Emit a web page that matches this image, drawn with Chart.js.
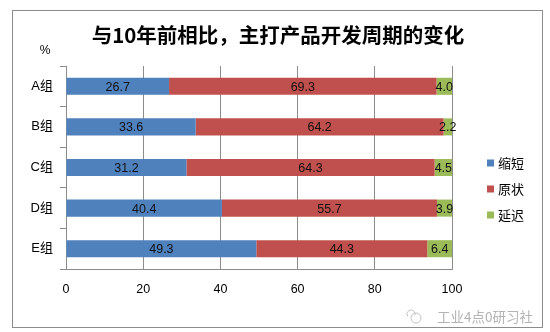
<!DOCTYPE html>
<html>
<head>
<meta charset="utf-8">
<script src="https://cdn.jsdelivr.net/npm/chart.js@4"></script>
<style>
html,body{margin:0;padding:0;background:#fff;}
#wrap{width:550px;height:332px;position:relative;}
</style>
</head>
<body>
<div id="wrap"><canvas id="c" width="550" height="332"></canvas></div>
<script>
const titleText = '与10年前相比，主打产品开发周期的变化';
const unitLabel = '%';
const watermark = '工业4点0研习社';
const categories = ['A组', 'B组', 'C组', 'D组', 'E组'];
const seriesNames = ['缩短', '原状', '延迟'];
const shortened = [26.7, 33.6, 31.2, 40.4, 49.3];
const unchanged = [69.3, 64.2, 64.3, 55.7, 44.3];
const delayed = [4.0, 2.2, 4.5, 3.9, 6.4];
const colors = ['#4F81BD', '#C0504D', '#9BBB59'];
const xTicks = [0, 20, 40, 60, 80, 100];

const FONT = '"Liberation Sans", "Noto Sans CJK SC", sans-serif';
const CJK = '"Noto Sans CJK SC", sans-serif';

const decorPlugin = {
  id: 'decor',
  beforeDraw(chart) {
    const ctx = chart.ctx;
    ctx.save();
    ctx.fillStyle = '#fff';
    ctx.fillRect(0, 0, chart.width, chart.height);
    ctx.strokeStyle = '#8c8c8c';
    ctx.lineWidth = 1;
    ctx.strokeRect(12.5, 10.5, 530, 317);
    ctx.restore();
  },
  afterDraw(chart) {
    const ctx = chart.ctx;
    ctx.save();
    // title
    ctx.fillStyle = '#000';
    ctx.font = 'bold 20.5px ' + CJK;
    ctx.textAlign = 'center';
    ctx.textBaseline = 'middle';
    ctx.fillText(titleText, 278, 35);
    // unit
    ctx.font = '12px ' + FONT;
    ctx.fillText(unitLabel, 45, 51);
    // data labels
    ctx.font = '12.5px ' + FONT;
    ctx.fillStyle = '#111';
    chart.data.datasets.forEach((ds, di) => {
      const meta = chart.getDatasetMeta(di);
      meta.data.forEach((bar, i) => {
        const p = bar.getProps(['x', 'y', 'base'], true);
        const cx = (p.x + p.base) / 2;
        ctx.fillText(ds.data[i].toFixed(1), cx, p.y + 1);
      });
    });
    // legend
    ctx.font = '13px ' + CJK;
    ctx.textAlign = 'left';
    const ly = [163, 189, 215];
    seriesNames.forEach((n, i) => {
      ctx.fillStyle = colors[i];
      ctx.fillRect(487, ly[i] - 3.5, 7, 7);
      ctx.fillStyle = '#000';
      ctx.fillText(n, 498, ly[i] + 0.5);
    });
    // watermark
    ctx.strokeStyle = '#c4c4c4';
    ctx.lineWidth = 1;
    ctx.beginPath();
    ctx.arc(416, 318, 5, 0, Math.PI * 2);
    ctx.stroke();
    ctx.beginPath();
    ctx.arc(411, 314, 4, Math.PI * 0.8, Math.PI * 2.1);
    ctx.stroke();
    ctx.fillStyle = '#b3b3b3';
    ctx.font = '13.5px ' + CJK;
    ctx.fillText(watermark, 437, 317);
    ctx.restore();
  }
};

new Chart(document.getElementById('c'), {
  type: 'bar',
  data: {
    labels: categories,
    datasets: [
      { label: seriesNames[0], data: shortened, backgroundColor: colors[0] },
      { label: seriesNames[1], data: unchanged, backgroundColor: colors[1] },
      { label: seriesNames[2], data: delayed, backgroundColor: colors[2] }
    ]
  },
  options: {
    indexAxis: 'y',
    responsive: false,
    animation: false,
    devicePixelRatio: 1,
    layout: { padding: { left: 0, top: 66, right: 98, bottom: 0 } },
    plugins: {
      legend: { display: false },
      title: { display: false },
      tooltip: { enabled: false }
    },
    datasets: { bar: { categoryPercentage: 1.0, barPercentage: 0.42 } },
    scales: {
      x: {
        stacked: true,
        min: 0,
        max: 100,
        afterBuildTicks(scale) { scale.ticks = xTicks.map(v => ({ value: v })); },
        afterFit(scale) { scale.height = 63; },
        grid: { color: '#8c8c8c', drawTicks: false, lineWidth: 1 },
        border: { display: true, color: '#8c8c8c' },
        ticks: { padding: 13, color: '#000', font: { family: FONT, size: 12.5 } }
      },
      y: {
        stacked: true,
        afterFit(scale) { scale.width = 66; },
        grid: { drawOnChartArea: false, drawTicks: true, tickLength: 6, color: '#8c8c8c', offset: true },
        border: { display: true, color: '#8c8c8c' },
        ticks: { padding: 7, color: '#000', font: { family: FONT, size: 13 } }
      }
    }
  },
  plugins: [decorPlugin]
});
</script>
</body>
</html>
